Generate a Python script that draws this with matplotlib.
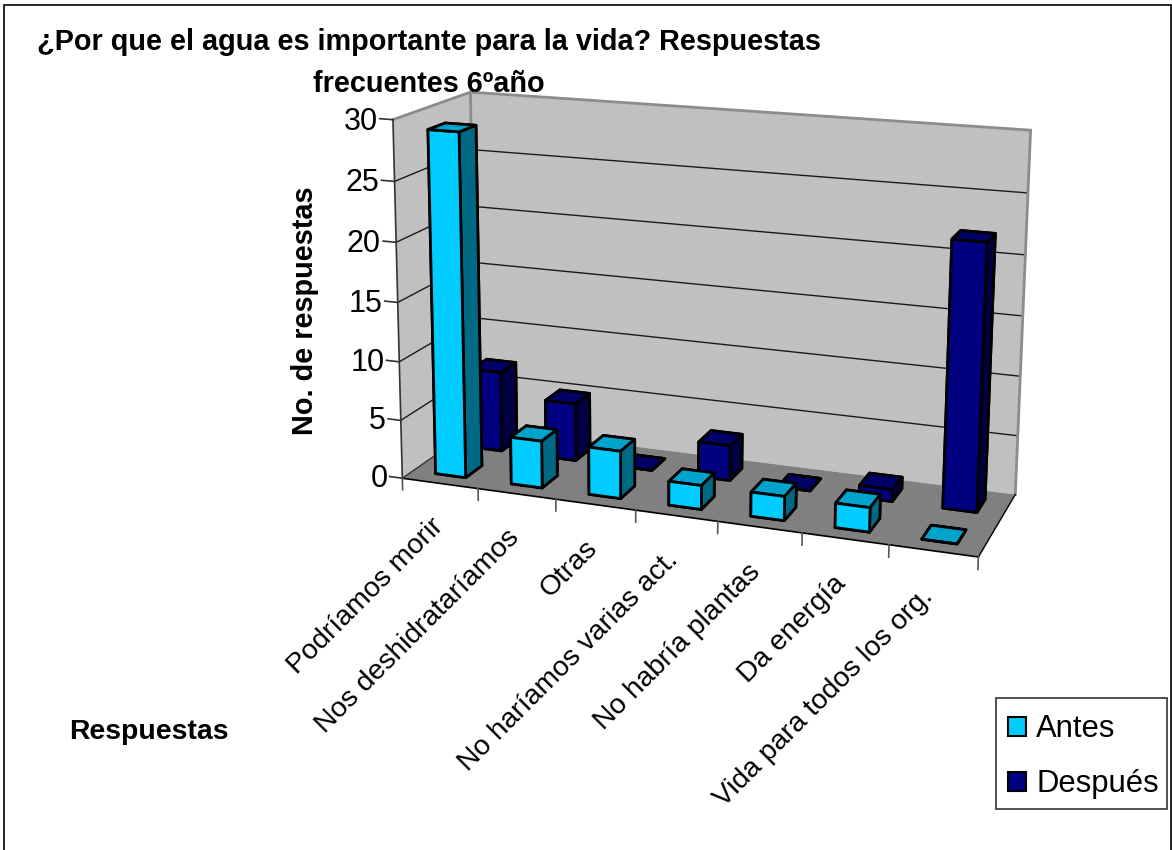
import numpy as np
import matplotlib
matplotlib.use("Agg")
import matplotlib.pyplot as plt
from matplotlib.patches import Patch, Rectangle
from mpl_toolkits.mplot3d.art3d import Poly3DCollection

plt.rcParams['font.family'] = ['Liberation Sans', 'DejaVu Sans']

# ---- data ----
categories = ["Podríamos morir", "Nos deshidrataríamos", "Otras", "No haríamos varias act.",
              "No habría plantas", "Da energía", "Vida para todos los org."]
antes = [29, 4, 4, 2, 2, 2, 0]
despues = [7, 5, 0, 3, 0, 1, 22]
series_names = ["Antes", "Después"]
z_ticks = [0, 5, 10, 15, 20, 25, 30]
title = "¿Por que el agua es importante para la vida? Respuestas\nfrecuentes 6ºaño"
ylabel = "No. de respuestas"
xlabel = "Respuestas"

W, H = 1172, 850
n = len(categories)
ZMAX = 30

# ---- camera: world (category, depth, value) -> image pixel, fitted to the wall/floor frame ----
calib = [
    ((0, 0, 0), (403, 477)), ((1, 0, 0), (478, 488)), ((2, 0, 0), (556, 499)), ((3, 0, 0), (636, 510)),
    ((4, 0, 0), (719, 522)), ((5, 0, 0), (802, 533)), ((6, 0, 0), (889, 545)), ((7, 0, 0), (979, 557)),
    ((0, 0, 5), (402, 419)), ((0, 0, 10), (399, 362)), ((0, 0, 20), (396, 243)), ((0, 0, 25), (393, 183)),
    ((0, 0, 30), (391, 120)),
    ((0, 1, 0), (472, 428)), ((7, 1, 0), (1015, 495)),
    ((0, 1, 20), (477, 207)), ((0, 1, 25), (475, 149)), ((0, 1, 30), (468, 91)),
    ((7, 1, 20), (1025, 254)), ((7, 1, 25), (1027, 193)), ((7, 1, 30), (1031, 130)),
]
A, b = [], []
for (x, y, z), (u, v) in calib:
    A.append([x, y, z, 1, 0, 0, 0, 0, -u * x, -u * y, -u * z]); b.append(u)
    A.append([0, 0, 0, 0, x, y, z, 1, -v * x, -v * y, -v * z]); b.append(v)
p = np.linalg.lstsq(np.array(A, float), np.array(b, float), rcond=None)[0]
P = np.array([list(p[:4]), list(p[4:8]), list(p[8:11]) + [1.0]])


def fig_xy(x, y, z):
    """Figure-fraction position of a world point."""
    q = P @ np.array([x, y, z, 1.0])
    return q[0] / q[2] / W, 1 - q[1] / q[2] / H


fig = plt.figure(figsize=(W / 100, H / 100), dpi=100, facecolor='white')
ax = fig.add_axes([0, 0, 1, 1], projection='3d', computed_zorder=False)
ax.set_proj_type('ortho')
ax.set_axis_off()
ax.patch.set_alpha(0)
ax.apply_aspect = lambda position=None: None


def get_proj():
    flip = np.array([[1, 0, 0], [0, -1, H], [0, 0, 1.0]])
    T = ax.transData.inverted().get_matrix() @ flip
    Q = T @ P
    depth = np.array([-0.3, 1.0, -0.03, 0.0])
    return np.array([Q[0], Q[1], depth, Q[2]])


ax.get_proj = get_proj

# ---- walls and floor ----
wall_c, floor_c, edge_c = '#C0C0C0', '#808080', '#8C8C8C'
left = [(0, 0, 0), (0, 1, 0), (0, 1, ZMAX), (0, 0, ZMAX)]
back = [(0, 1, 0), (n, 1, 0), (n, 1, ZMAX), (0, 1, ZMAX)]
floor = [(0, 0, 0), (n, 0, 0), (n, 1, 0), (0, 1, 0)]
ax.add_collection3d(Poly3DCollection([left, back], facecolors=wall_c, edgecolors='none', zorder=1), autolim=False)
ax.add_collection3d(Poly3DCollection([floor], facecolors=floor_c, edgecolors='none', zorder=1), autolim=False)

for t in z_ticks[1:-1]:
    ax.plot([0, 0, n], [0, 1, 1], [t, t, t], color='#1a1a1a', lw=1.0, zorder=2)
ax.plot([0, 0, n, n], [0, 1, 1, 1], [ZMAX, ZMAX, ZMAX, 0], color=edge_c, lw=2.0, zorder=2, solid_joinstyle='miter')
ax.plot([0, 0], [1, 1], [0, ZMAX], color=edge_c, lw=2.0, zorder=2)
ax.plot([0, 0], [0, 0], [0, ZMAX], color='#333333', lw=1.2, zorder=2)
ax.plot([0, n], [0, 0], [0, 0], color='black', lw=1.2, zorder=2)
ax.plot([0, 0], [0, 1], [0, 0], color='#333333', lw=1.0, zorder=2)
ax.plot([n, n], [0, 1], [0, 0], color='black', lw=1.0, zorder=2)

# ---- bars ----
row_colors = [
    ('#00CCFF', '#00A3CC', '#006A85'),
    ('#000080', '#000066', '#000040'),
]
rows = [(antes, 0.14, 6), (despues, 0.64, 4)]
bw, bd = 0.40, 0.22
for idx, (vals, y0, zo) in enumerate(rows):
    front, top, side = row_colors[idx]
    # face order in bar3d: bottom, top, front, back, left, right
    for i, v in enumerate(vals):
        ax.bar3d(i + 0.3, y0, 0, bw, bd, v, color=[top, top, front, front, side, side],
                 shade=False, edgecolor='black', linewidth=2.0, zorder=zo + i * 0.01)

# ---- ticks and tick labels ----
for t in z_ticks:
    ax.plot([-0.17, 0], [0, 0], [t, t], color='#333333', lw=1.2, zorder=2)
    tx, ty = fig_xy(-0.2, 0, t - 0.25)
    fig.text(tx, ty, str(t), ha='right', va='center', fontsize=22)
for i in range(n + 1):
    ax.plot([i, i], [0, 0], [0, -1.0], color='#555555', lw=1.2, zorder=2)
for i, c in enumerate(categories):
    tx, ty = fig_xy(i + 0.36, 0, -2.75)
    fig.text(tx, ty, c, rotation=45, ha='right', va='top', rotation_mode='anchor', fontsize=20.3)

# ---- titles ----
fig.text(429 / W, 1 - 28 / H, title, ha='center', va='top', fontsize=20.8, fontweight='bold', linespacing=1.65)
fig.text(305 / W, 1 - 311 / H, ylabel, rotation=90, ha='center', va='center', fontsize=20.8, fontweight='bold')
fig.text(149 / W, 1 - 732 / H, xlabel, ha='center', va='center', fontsize=20.4, fontweight='bold')

# ---- legend ----
fig.add_artist(Rectangle((996 / W, 1 - 809 / H), 171 / W, 111 / H, transform=fig.transFigure,
                         facecolor='white', edgecolor='#333333', linewidth=1.2))
handles = [Patch(facecolor=row_colors[i][0], edgecolor='black', linewidth=1.5, label=series_names[i]) for i in range(2)]
fig.legend(handles=handles, loc='upper left', mode='expand',
           bbox_to_anchor=(996 / W, 1 - 813 / H, 171 / W, 111 / H), fontsize=22.3, frameon=False,
           handlelength=0.58, handleheight=0.58,
           handletextpad=0.32, labelspacing=0.80, borderpad=0.4, borderaxespad=0)

# ---- chart border ----
fig.add_artist(Rectangle((3.5 / W, -0.01), (1171 - 3.5) / W, 1.01 - 4.5 / H, transform=fig.transFigure,
                         fill=False, edgecolor='black', linewidth=1.2))

fig.savefig('out.png', dpi=100)
